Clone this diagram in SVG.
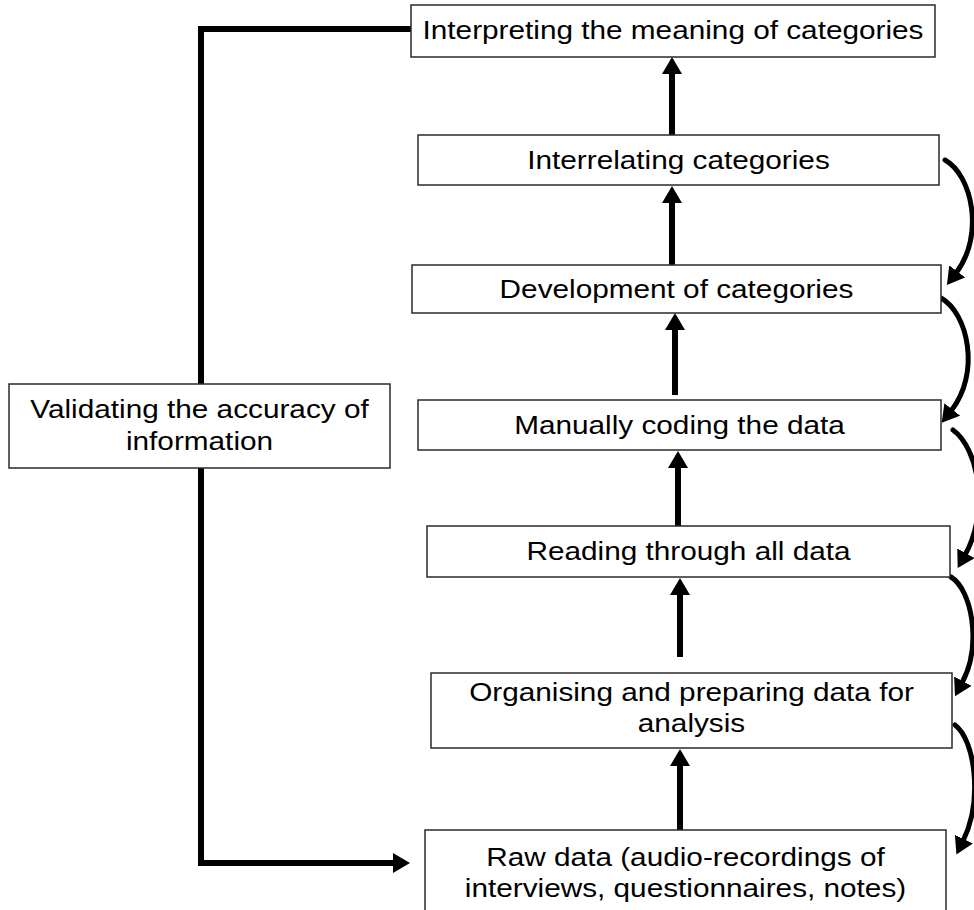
<svg xmlns="http://www.w3.org/2000/svg" width="974" height="910" viewBox="0 0 974 910">
  <style>
    .box { fill: #ffffff; stroke: #2a2a2a; stroke-width: 1.5; }
    .lbl { font-family: "Liberation Sans", Arial, sans-serif; font-size: 25px; fill: #000000; text-anchor: middle; }
    .ln { fill: none; stroke: #000000; stroke-width: 6; }
    .cv { fill: none; stroke: #000000; stroke-width: 5; stroke-linecap: round; }
  </style>
  <defs>
    <marker id="head" markerUnits="userSpaceOnUse" viewBox="0 0 17 20" markerWidth="17" markerHeight="20" refX="2" refY="10" orient="auto">
      <path d="M0,0 L17,10 L0,20 Z" fill="#000000"/>
    </marker>
  </defs>
  <rect width="974" height="910" fill="#ffffff"/>

  <g id="connectors">
    <!-- upward flow arrows -->
    <line class="ln" x1="672" y1="135" x2="672" y2="72" marker-end="url(#head)"/>
    <line class="ln" x1="672" y1="265" x2="672" y2="201" marker-end="url(#head)"/>
    <line class="ln" x1="675" y1="395" x2="675" y2="328" marker-end="url(#head)"/>
    <line class="ln" x1="678" y1="526" x2="678" y2="466" marker-end="url(#head)"/>
    <line class="ln" x1="680" y1="657" x2="680" y2="593" marker-end="url(#head)"/>
    <line class="ln" x1="680" y1="830" x2="680" y2="764" marker-end="url(#head)"/>
    <!-- validation loop on the left -->
    <polyline class="ln" points="411,29 201,29 201,384"/>
    <polyline class="ln" points="201,468 201,863 395,863" marker-end="url(#head)"/>
    <!-- curved arrows on the right -->
    <path class="cv" d="M945,160 C972,175 985,235 956,273" marker-end="url(#head)"/>
    <path class="cv" d="M941,298 C968,313 981,373 951,411" marker-end="url(#head)"/>
    <path class="cv" d="M953,430 C978,448 990,510 965,555" marker-end="url(#head)"/>
    <path class="cv" d="M951,577 C972,590 982,645 962,683" marker-end="url(#head)"/>
    <path class="cv" d="M955,725 C975,740 983,800 963,841" marker-end="url(#head)"/>
  </g>

  <g id="interpreting">
    <rect class="box" x="411" y="5" width="524" height="52"/>
    <text class="lbl" transform="translate(673,39) scale(1.19,1)">Interpreting the meaning of categories</text>
  </g>
  <g id="interrelating">
    <rect class="box" x="418" y="135" width="521" height="50"/>
    <text class="lbl" transform="translate(678.5,169) scale(1.19,1)">Interrelating categories</text>
  </g>
  <g id="development">
    <rect class="box" x="412" y="265" width="529" height="48"/>
    <text class="lbl" transform="translate(676.5,298) scale(1.19,1)">Development of categories</text>
  </g>
  <g id="manually">
    <rect class="box" x="418" y="400" width="523" height="50"/>
    <text class="lbl" transform="translate(679.5,434) scale(1.19,1)">Manually coding the data</text>
  </g>
  <g id="reading">
    <rect class="box" x="427" y="526" width="523" height="51"/>
    <text class="lbl" transform="translate(688.5,560) scale(1.19,1)">Reading through all data</text>
  </g>
  <g id="organising">
    <rect class="box" x="431" y="673" width="521" height="75"/>
    <text class="lbl" transform="translate(691.5,701) scale(1.19,1)">Organising and preparing data for</text>
    <text class="lbl" transform="translate(691.5,732) scale(1.19,1)">analysis</text>
  </g>
  <g id="rawdata">
    <rect class="box" x="425" y="830" width="521" height="90"/>
    <text class="lbl" transform="translate(685.5,866) scale(1.19,1)">Raw data (audio-recordings of</text>
    <text class="lbl" transform="translate(685.5,897) scale(1.19,1)">interviews, questionnaires, notes)</text>
  </g>
  <g id="validating">
    <rect class="box" x="9" y="384" width="381" height="84"/>
    <text class="lbl" transform="translate(199.5,418) scale(1.19,1)">Validating the accuracy of</text>
    <text class="lbl" transform="translate(199.5,450) scale(1.19,1)">information</text>
  </g>
</svg>
